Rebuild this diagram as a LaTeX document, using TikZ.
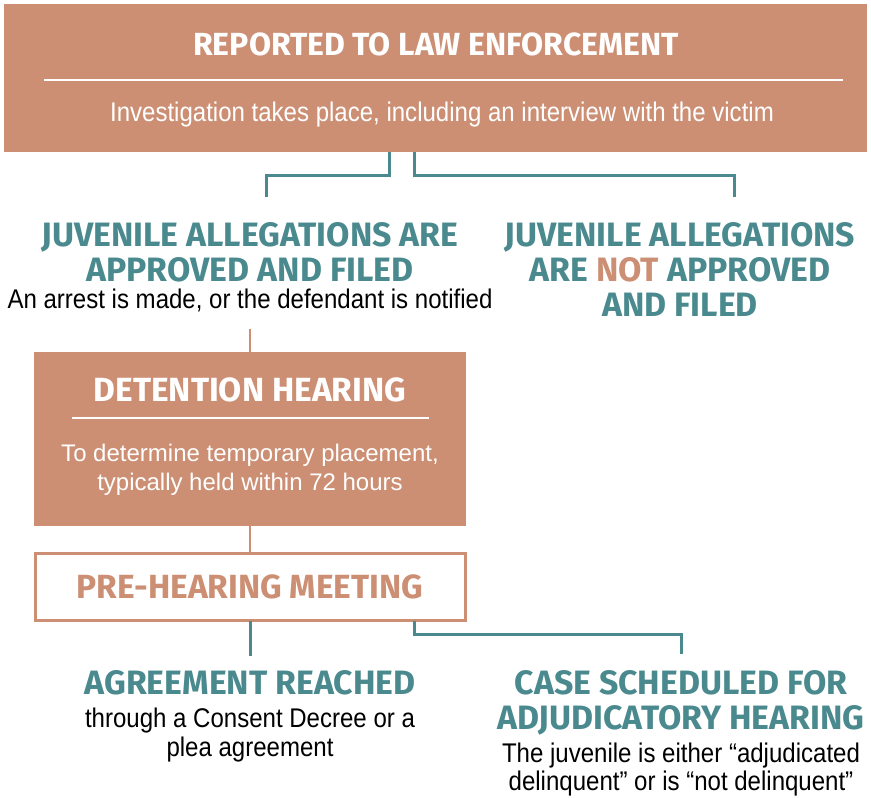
\documentclass[tikz,border=0pt]{standalone}
\usepackage{fontspec}
\setmainfont{Liberation Sans}
\newfontfamily\narrowfont{Liberation Sans}[FakeStretch=0.89]
\newfontfamily\headfont{Fira Sans}
\definecolor{tan}{RGB}{204,143,116}
\definecolor{tealc}{RGB}{74,138,142}
\tikzset{
  panel/.style={fill=tan, draw=none, inner sep=0pt, outer sep=0pt, anchor=north west},
  outlinebox/.style={fill=white, draw=tan, line width=2.5pt, inner sep=0pt, outer sep=0pt, anchor=north west},
  boxtitle/.style={anchor=base, inner sep=0pt, text=white, font=\headfont\bfseries\fontsize{33.5}{36}\selectfont},
  boxtext/.style={anchor=base, inner sep=0pt, text=white, font=\fontsize{24}{29}\selectfont, align=center},
  boxnarrow/.style={anchor=base, inner sep=0pt, text=white, font=\narrowfont\fontsize{27}{29}\selectfont},
  heading/.style={anchor=base, inner sep=0pt, text=tealc, align=center, font=\headfont\bfseries\fontsize{33.8}{35}\selectfont},
  note/.style={anchor=base, inner sep=0pt, text=black, align=center, font=\narrowfont\fontsize{27}{29}\selectfont},
  tealline/.style={draw=tealc, line width=3pt},
  tanline/.style={draw=tan, line width=2.5pt},
  rule/.style={draw=white, line width=2pt}
}
\begin{document}
\begin{tikzpicture}[x=1pt, y=-1pt]
\useasboundingbox (0,0) rectangle (871,798);

% top panel
\node[panel, minimum width=863pt, minimum height=148pt] (top) at (4,4) {};
\node[boxtitle, font=\headfont\bfseries\fontsize{32}{36}\selectfont] (topTitle) at (436,55) {REPORTED TO LAW ENFORCEMENT};
\draw[rule] (44,80) -- (843,80);
\node[boxnarrow] (topText) at (442,121) {Investigation takes place, including an interview with the victim};

% two outcomes of the report
\node[heading] (apprA) at (250,246) {JUVENILE ALLEGATIONS ARE};
\node[heading] (apprB) at (250,281) {APPROVED AND FILED};
\node[note] (apprNote) at (250,308) {An arrest is made, or the defendant is notified};

\node[heading] (notA) at (680,246) {JUVENILE ALLEGATIONS};
\node[heading] (notB) at (680,281) {ARE \textcolor{tan}{NOT} APPROVED};
\node[heading] (notC) at (680,316) {AND FILED};

\coordinate (topL) at (389,152);
\coordinate (topR) at (414,152);
\coordinate (apprIn) at (266,197);
\coordinate (notIn) at (734,197);
\draw[tealline] (topL) -- ++(0,23) -| (apprIn);
\draw[tealline] (topR) -- ++(0,23) -| (notIn);

% detention hearing
\node[panel, minimum width=432pt, minimum height=174pt] (det) at (34,352) {};
\node[boxtitle] (detTitle) at (250,401) {DETENTION HEARING};
\draw[rule] (72,418) -- (429,418);
\node[boxtext] (detTextA) at (250,461) {To determine temporary placement,};
\node[boxtext] (detTextB) at (250,490) {typically held within 72 hours};

\coordinate (apprOut) at (250,329);
\draw[tanline] (apprOut) -- (det.north -| apprOut);

% pre-hearing meeting
\node[outlinebox, minimum width=430pt, minimum height=67pt] (pre) at (35.5,553.5) {};
\node[boxtitle, text=tan] (preTitle) at (250,598) {PRE-HEARING MEETING};
\draw[tanline] (det.south -| apprOut) -- (pre.north -| apprOut);

% outcomes of the meeting
\node[heading] (agrTitle) at (250,694) {AGREEMENT REACHED};
\node[note] (agrA) at (250,727) {through a Consent Decree or a};
\node[note] (agrB) at (250,756) {plea agreement};

\node[heading] (caseA) at (681,694) {CASE SCHEDULED FOR};
\node[heading] (caseB) at (681,729) {ADJUDICATORY HEARING};
\node[note] (caseC) at (681,762) {The juvenile is either “adjudicated};
\node[note] (caseD) at (681,790) {delinquent” or is “not delinquent”};

\coordinate (agrIn) at (250,656);
\coordinate (caseIn) at (681,654);
\coordinate (preR) at (414,620);
\draw[tealline] (pre.south -| agrIn) -- (agrIn);
\draw[tealline] (pre.south -| preR) -- ++(0,14) -| (caseIn);
\end{tikzpicture}
\end{document}
